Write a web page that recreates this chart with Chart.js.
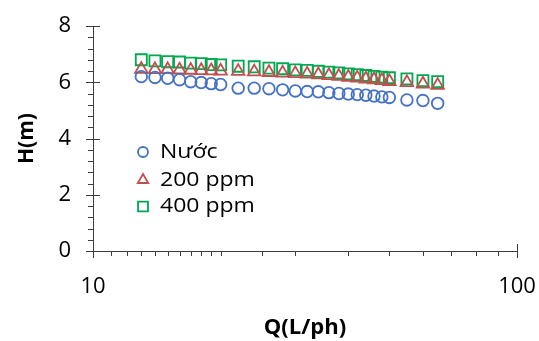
<!DOCTYPE html>
<html><head><meta charset="utf-8">
<script src="https://cdn.jsdelivr.net/npm/chart.js@4/dist/chart.umd.min.js"></script>
<style>html,body{margin:0;padding:0;background:#fff}#wrap{width:539px;height:341px;position:relative}</style>
</head><body><div id="wrap"><canvas id="c" width="539" height="341"></canvas></div>
<script>
// ---- data ----
const flowQ = [13,14,15,16,17,18,19,20,22,24,26,28,30,32,34,36,38,40,42,44,46,48,50,55,60,65];
const headWater = [6.20,6.17,6.14,6.09,6.02,5.99,5.95,5.92,5.79,5.79,5.77,5.73,5.69,5.67,5.66,5.63,5.60,5.58,5.56,5.54,5.51,5.48,5.46,5.37,5.35,5.25];
const head200 = [6.46,6.45,6.45,6.44,6.43,6.42,6.41,6.40,6.39,6.37,6.35,6.33,6.31,6.29,6.27,6.24,6.21,6.18,6.15,6.12,6.09,6.06,6.03,5.99,5.94,5.89];
const head400 = [6.80,6.76,6.73,6.72,6.68,6.66,6.63,6.62,6.57,6.55,6.50,6.48,6.44,6.42,6.39,6.36,6.33,6.30,6.27,6.24,6.21,6.18,6.16,6.12,6.06,6.02];
const seriesNames = ['Nước','200 ppm','400 ppm'];
const xTickLabels = [10,100];
const yTickLabels = [0,2,4,6,8];
const xTitle = 'Q(L/ph)';
const yTitle = 'H(m)';

// ---- style ----
const FONT = "'Open Sans', sans-serif";
const TEXT = '#000';
const AXIS = '#3c3c3c';
const COLORS = ['#4472C4','#C0504D','#00A84F'];
const STYLES = ['circle','triangle','rect'];
const RADII = [5.8,7.2,7.8];

function pts(ys){ return flowQ.map((q,i)=>({x:q,y:ys[i]})); }
const allSeries = [headWater, head200, head400];

const tickPlugin = {
  id:'tickMarks',
  afterDraw(chart){
    const ctx = chart.ctx, xs = chart.scales.x, ys = chart.scales.y;
    const ax = xs.left, ay = ys.bottom;
    ctx.save();
    ctx.strokeStyle = AXIS; ctx.lineWidth = 1;
    ctx.beginPath();
    ys.ticks.forEach(t=>{
      const p = Math.round(ys.getPixelForValue(t.value))+0.5;
      const major = yTickLabels.some(v=>Math.abs(v-t.value)<1e-6);
      const inner = (major && Math.abs(t.value)>1e-6) ? 7 : 0;
      ctx.moveTo(Math.round(ax)-(major?7:5), p); ctx.lineTo(Math.round(ax)+inner, p);
    });
    xs.ticks.forEach(t=>{
      const p = Math.round(xs.getPixelForValue(t.value))+0.5;
      const major = xTickLabels.includes(t.value);
      ctx.moveTo(p, Math.round(ay)-(major?7:0)); ctx.lineTo(p, Math.round(ay)+(major?7:5));
    });
    ctx.stroke();
    ctx.restore();
  }
};

const legendPlugin = {
  id:'innerLegend',
  afterDraw(chart){
    const ctx = chart.ctx;
    const x0 = 143, ys0 = [152,180,206.5];
    const legR = [5,6,7];
    ctx.save();
    chart.data.datasets.forEach((ds,i)=>{
      ctx.strokeStyle = ds.borderColor; ctx.fillStyle = 'rgba(0,0,0,0)'; ctx.lineWidth = 1.8;
      if (Chart.helpers && Chart.helpers.drawPoint) {
        Chart.helpers.drawPoint(ctx,{pointStyle:ds.pointStyle,radius:legR[i],rotation:0,borderWidth:1.8},x0,ys0[i]);
      }
      ctx.fillStyle = TEXT;
      ctx.font = "20px " + FONT;
      ctx.textBaseline = 'middle';
      ctx.textAlign = 'left';
      ctx.save();
      ctx.translate(160, ys0[i]);
      ctx.scale(1.15,1);
      ctx.fillText(ds.label, 0, 0);
      ctx.restore();
    });
    ctx.restore();
  }
};

new Chart(document.getElementById('c'), {
  type:'scatter',
  data:{ datasets: allSeries.map((s,i)=>({
    label: seriesNames[i], data: pts(s), pointStyle: STYLES[i], pointRadius: RADII[i],
    borderColor: COLORS[i], backgroundColor:'rgba(0,0,0,0)', pointBorderWidth:1.8, showLine:false
  })) },
  options:{
    responsive:false, animation:false, devicePixelRatio:1,
    layout:{ padding:{ left:0, top:26, right:22, bottom:0 } },
    plugins:{ legend:{display:false}, tooltip:{enabled:false} },
    scales:{
      x:{ type:'logarithmic', min:10, max:100,
        afterFit(s){ s.height = 90; s.paddingLeft = 0; s.paddingRight = 0; },
        grid:{ display:true, drawOnChartArea:false, drawTicks:false },
        border:{ display:true, color:AXIS, width:1 },
        ticks:{ autoSkip:false, maxRotation:0, padding:23, color:TEXT, font:{family:FONT,size:22},
          callback:(v)=> xTickLabels.includes(v) ? String(v) : '' },
        title:{ display:true, text:xTitle, color:TEXT, font:{family:FONT,size:22,weight:'bold'}, padding:{top:0,bottom:0} }
      },
      y:{ type:'linear', min:0, max:8,
        afterFit(s){ s.width = 93; s.paddingTop = 0; s.paddingBottom = 0; },
        grid:{ display:true, drawOnChartArea:false, drawTicks:false },
        border:{ display:true, color:AXIS, width:1 },
        ticks:{ stepSize:0.4, autoSkip:false, padding:22, color:TEXT, font:{family:FONT,size:22},
          callback:(v)=> { const m = yTickLabels.find(t=>Math.abs(t-v)<1e-6); return m===undefined ? '' : String(m); } },
        title:{ display:true, text:yTitle, color:TEXT, font:{family:FONT,size:21,weight:'bold'}, padding:{top:14,bottom:14} }
      }
    }
  },
  plugins:[tickPlugin, legendPlugin]
});
</script></body></html>
